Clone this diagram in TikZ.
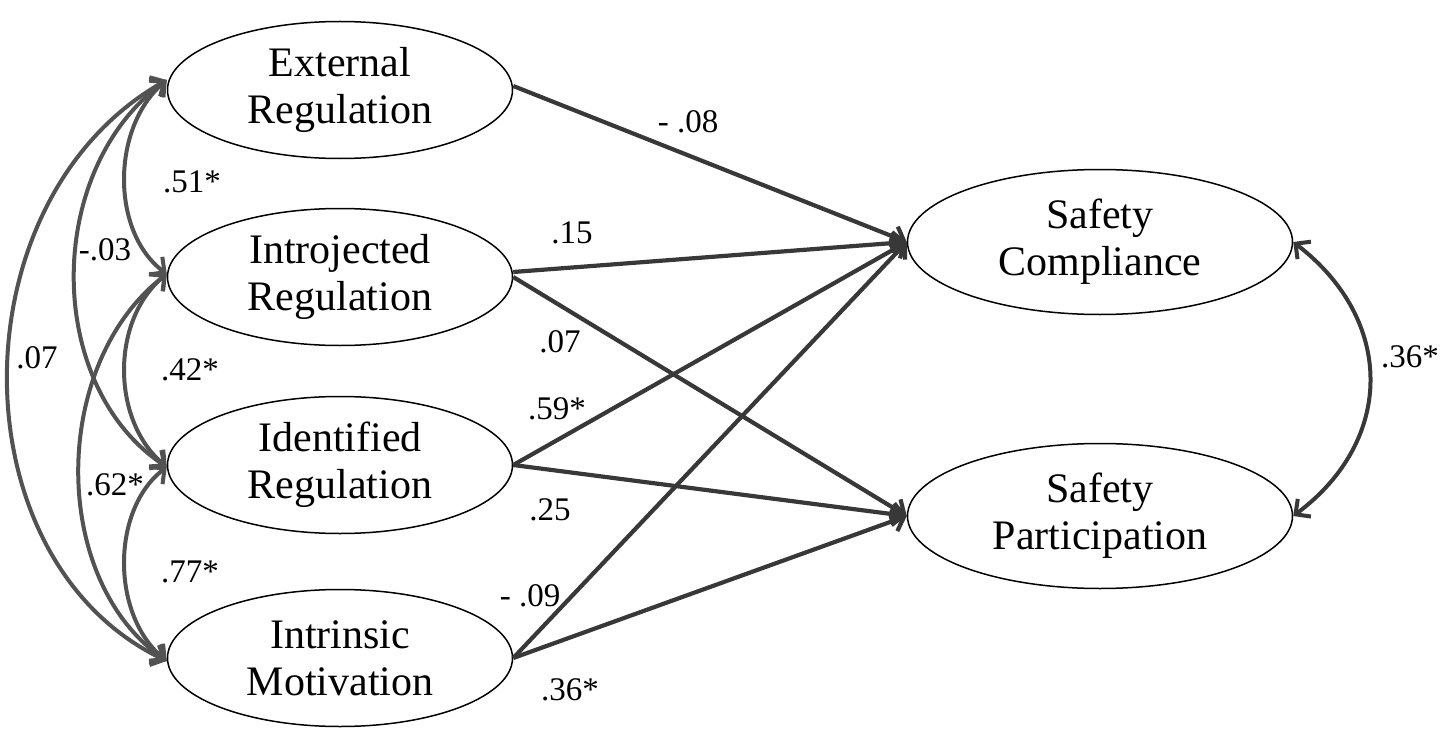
\documentclass[tikz,border=0pt]{standalone}
\usepackage{fontspec}
\setmainfont{Liberation Serif}
\usetikzlibrary{arrows.meta,shapes.geometric}
\begin{document}
\begin{tikzpicture}[x=1pt,y=-1pt,
  latent/.style={ellipse, draw=black, line width=1.5pt, fill=white,
    minimum width=345pt, minimum height=137pt, inner sep=0pt, align=center,
    font=\fontsize{42}{47}\selectfont},
  outcome/.style={latent, minimum width=385pt, minimum height=145pt},
  barb/.tip={Straight Barb[length=11pt,width=22pt]},
  regarrow/.style={draw=black!78, line width=4.2pt, -barb},
  covar/.style={draw=black!68, line width=4pt, barb-barb},
  lab/.style={font=\fontsize{33}{37}\selectfont, inner sep=0pt}]
\useasboundingbox (0,0) rectangle (1448,741);
% latent variables
\node[latent] (ER) at (340,90) {External\\Regulation};
\node[latent] (IJ) at (340,277) {Introjected\\Regulation};
\node[latent] (ID) at (340,465) {Identified\\Regulation};
\node[latent] (IM) at (340,658) {Intrinsic\\Motivation};
\node[outcome] (SC) at (1100,242) {Safety\\Compliance};
\node[outcome] (SP) at (1100,516) {Safety\\Participation};
% regression paths
\draw[regarrow] ([yshift=4pt]ER.east) -- (SC.west);
\draw[regarrow] ([yshift=5pt]IJ.east) -- (SC.west);
\draw[regarrow] (IJ.east) -- (SP.west);
\draw[regarrow] (ID.east) -- (SC.west);
\draw[regarrow] (ID.east) -- (SP.west);
\draw[regarrow] (IM.east) -- (SC.west);
\draw[regarrow] (IM.east) -- (SP.west);
% path labels
\node[lab] (l1) at (688,122) {- .08};
\node[lab] (l2) at (572,233) {.15};
\node[lab] (l3) at (560,342) {.07};
\node[lab] (l4) at (557,409) {.59*};
\node[lab] (l5) at (550,510) {.25};
\node[lab] (l6) at (530,596) {- .09};
\node[lab] (l7) at (570,690) {.36*};
% covariances among predictors
\draw[covar] ([yshift=10pt]ER.west) .. controls (111,128) and (111,232) .. ([yshift=3pt]IJ.west);
\draw[covar] ([yshift=10pt]ER.west) .. controls (44,170) and (44,385) .. ([yshift=-2pt]ID.west);
\draw[covar] ([yshift=10pt]ER.west) .. controls (-45,200) and (-45,560) .. ([yshift=-3pt]IM.west);
\draw[covar] ([yshift=3pt]IJ.west) .. controls (111,320) and (111,420) .. ([yshift=-2pt]ID.west);
\draw[covar] ([yshift=3pt]IJ.west) .. controls (50,365) and (50,580) .. ([yshift=-3pt]IM.west);
\draw[covar] ([yshift=-2pt]ID.west) .. controls (111,510) and (111,615) .. ([yshift=-3pt]IM.west);
\node[lab] (c1) at (192,182) {.51*};
\node[lab] (c2) at (105,250) {-.03};
\node[lab] (c3) at (37,358) {.07};
\node[lab] (c4) at (190,370) {.42*};
\node[lab] (c5) at (115,485) {.62*};
\node[lab] (c6) at (190,572) {.77*};
% covariance among outcomes
\draw[covar, draw=black!78] (SC.east) .. controls (1395,320) and (1395,440) .. (SP.east);
\node[lab] (c7) at (1410,357) {.36*};
\end{tikzpicture}
\end{document}
